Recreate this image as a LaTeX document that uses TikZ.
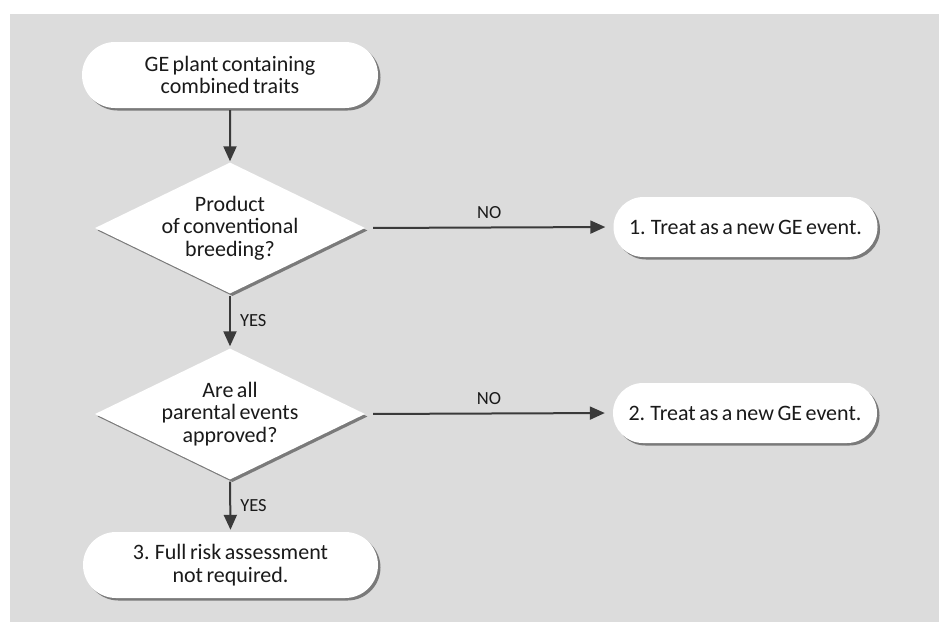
\documentclass[tikz,border=0pt]{standalone}
\usepackage{fontspec}
\setmainfont[WordSpace=0.7]{Carlito}
\usetikzlibrary{shapes.geometric,shapes.misc,shadows,arrows.meta}
\definecolor{bg}{HTML}{DCDCDC}
\definecolor{ink}{HTML}{3A3A3A}
\definecolor{shade}{HTML}{7A7A7A}
\definecolor{txt}{HTML}{1A1A1A}
\begin{document}
\begin{tikzpicture}[x=1pt,y=-1pt,
  font=\fontsize{22}{22.5}\selectfont, text=txt,
  shad/.style={drop shadow={shadow xshift=2.5pt,shadow yshift=-2.5pt,fill=shade,opacity=1}},
  pill/.style={rounded rectangle, fill=white, draw=none, align=center, inner sep=0pt, shad},
  dia/.style={diamond, fill=white, draw=none, inner sep=0pt, minimum width=270pt, minimum height=131pt, shad},
  flow/.style={draw=ink, line width=2pt, -{Triangle[length=15pt,width=13pt]}},
  lab/.style={text=txt, font=\fontsize{18.5}{19}\selectfont, inner sep=0pt}]
\useasboundingbox (0,0) rectangle (939,622);
\fill[bg] (10,14) rectangle (939,622);

\node[pill, minimum width=296pt, minimum height=66pt] (start) at (230,75) {GE plant containing\\combined traits};
\node[dia, label={[align=center]center:Product\\of conventional\\breeding?}] (d1) at (230,228) {};
\node[pill, minimum width=264pt, minimum height=60pt] (n1) at (745.5,227) {1. Treat as a new GE event.};
\node[dia, label={[align=center]center:Are all\\parental events\\approved?}] (d2) at (230,414) {};
\node[pill, minimum width=264pt, minimum height=60pt] (n2) at (745,413) {2. Treat as a new GE event.};
\node[pill, minimum width=295pt, minimum height=66pt] (n3) at (230.5,565) {3. Full risk assessment\\not required.};

\draw[flow, shorten <=2pt, shorten >=1pt] (start) -- (d1);
\draw[flow, shorten <=8pt, shorten >=8pt] (d1.east) -- node[lab, above=8pt] {NO} (n1.west);
\draw[flow, shorten <=2pt, shorten >=2pt] (d1.south) -- node[lab, right=9pt] {YES} (d2.north);
\draw[flow, shorten <=8pt, shorten >=8pt] (d2.east) -- node[lab, above=8pt] {NO} (n2.west);
\draw[flow, shorten <=2pt, shorten >=2pt] (d2.south) -- node[lab, right=9pt] {YES} (n3.north);
\end{tikzpicture}
\end{document}
